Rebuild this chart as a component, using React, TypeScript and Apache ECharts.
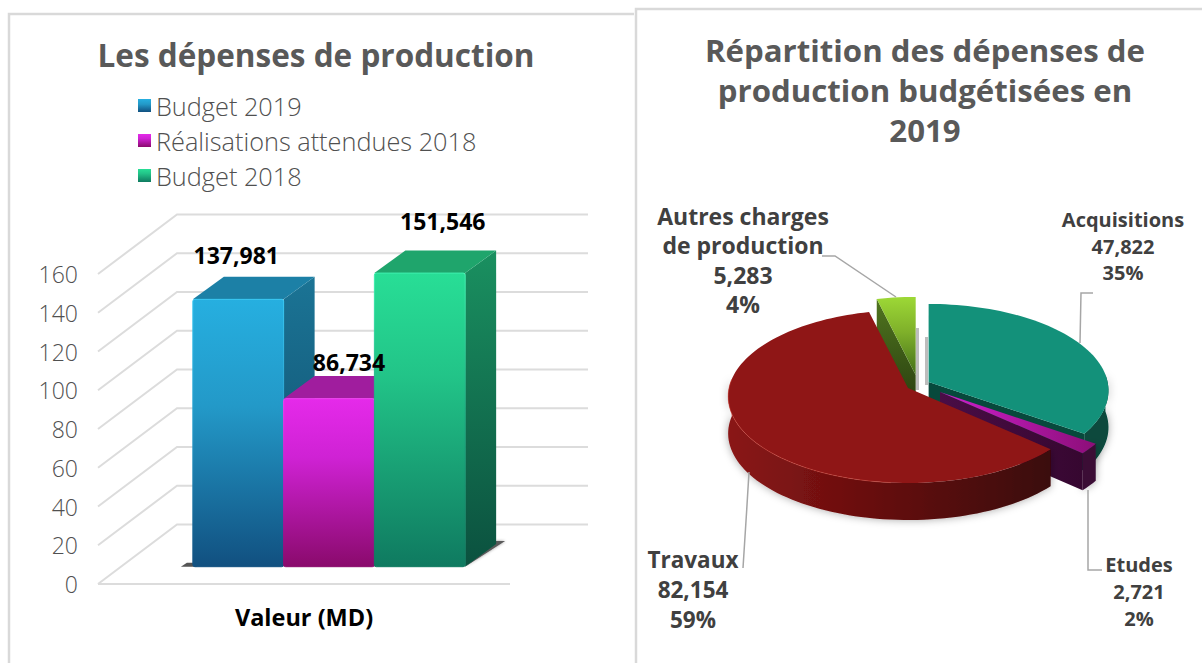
import React, { useEffect, useRef } from "react";
import * as echarts from "echarts";

const barSeriesNames = ["Budget 2019", "Réalisations attendues 2018", "Budget 2018"];
const barValues = [137.981, 86.734, 151.546];
const barLabels = ["137,981", "86,734", "151,546"];
const yTicks = [0, 20, 40, 60, 80, 100, 120, 140, 160];
const categoryNames = ["Valeur (MD)"];

const pieNames = ["Acquisitions", "Etudes", "Travaux", "Autres charges\nde production"];
const pieValues = [47.822, 2.721, 82.154, 5.283];
const pieValueLabels = ["47,822", "2,721", "82,154", "5,283"];
const piePercents = ["35%", "2%", "59%", "4%"];

const FONT = "Open Sans";
const grad = (x2: number, y2: number, stops: [number, string][]) => ({
  type: "linear", x: 0, y: 0, x2, y2,
  colorStops: stops.map(([offset, color]) => ({ offset, color })),
});

const barStyles = [
  { front: grad(0, 1, [[0, "#26afe0"], [0.4, "#2399c8"], [1, "#115080"]]), side: grad(0, 1, [[0, "#1b7495"], [1, "#0f4a6a"]]), top: "#1c80a6", edge: grad(0, 1, [[0, "#33c6f2"], [0.5, "#2399c8"], [1, "#115080"]]) },
  { front: grad(0, 1, [[0, "#e52aea"], [0.35, "#cf22d4"], [1, "#8a0a6c"]]), side: grad(0, 1, [[0, "#7d1480"], [1, "#4d0b4c"]]), top: "#a01d9e", edge: grad(0, 1, [[0, "#f040f2"], [0.5, "#bb1cc0"], [1, "#8a0a6c"]]) },
  { front: grad(0, 1, [[0, "#28de96"], [0.35, "#22c488"], [1, "#0f7a60"]]), side: grad(0, 1, [[0, "#1a9060"], [1, "#0b513f"]]), top: "#1fa56c", edge: grad(0, 1, [[0, "#3df0ae"], [0.5, "#1aa67e"], [1, "#0f7a60"]]) },
];
const BAR_W = 0.2203;
const FRONT = { dx: 25, dy: -17.3 };
const DEPTH = { dx: 31, dy: -22.6 };
const WALL = { dx: 79, dy: -59.5 };
const labelOffsets = [[-2, -44], [20, -36.6], [23, -52]];

const wallSeries = {
  type: "custom", name: "wall", silent: true, z: 1,
  data: yTicks.map((v) => [0, v]),
  renderItem: (p: any, api: any) => {
    const pt = api.coord([0, api.value(1)]);
    const L = p.coordSys.x, R = L + p.coordSys.width;
    const y = pt[1];
    const st = { stroke: "#dcdcdc", lineWidth: 2, fill: "none" };
    const children: any[] = [{
      type: "polyline",
      shape: { points: [[L, y], [L + WALL.dx, y + WALL.dy], [R + WALL.dx - 1, y + WALL.dy]] },
      style: st,
    }];
    if (api.value(1) === 0) children.push({ type: "line", shape: { x1: L, y1: y, x2: R, y2: y }, style: st });
    return { type: "group", children };
  },
};

const barSeries = barSeriesNames.map((name, i) => ({
  type: "custom", name, silent: true, z: 2,
  itemStyle: { color: barStyles[i].front },
  data: [[0, barValues[i]]],
  renderItem: (_p: any, api: any) => {
    const top = api.coord([0, api.value(1)]);
    const base = api.coord([0, 0]);
    const w = api.size([1, 0])[0] * BAR_W;
    const x0 = top[0] - 1.5 * w + i * w + FRONT.dx;
    const x1 = x0 + w;
    const yT = top[1] + FRONT.dy, yB = base[1] + FRONT.dy;
    const s = barStyles[i];
    const z2 = i * 5 + 1;
    const children: any[] = [];
    if (i === 0) {
      children.push({ type: "polygon", z2: 0, shape: { points: [[x0 - 12, yB], [x0 - 12 + 6, yB - 4], [x0 + 4, yB - 4], [x0 + 4, yB]] },
        style: { fill: "#555" } });
    }
    if (i === 2) {
      children.push({ type: "polygon", z2: 0, shape: { points: [[x1, yB], [x1 + DEPTH.dx + 9, yB + DEPTH.dy - 3], [x1 + DEPTH.dx, yB + DEPTH.dy - 3]] },
        style: { fill: "#5a5a5a", shadowBlur: 3, shadowColor: "rgba(0,0,0,.4)" } });
    }
    children.push(
      { type: "polygon", z2, shape: { points: [[x1, yT], [x1 + DEPTH.dx, yT + DEPTH.dy], [x1 + DEPTH.dx, yB + DEPTH.dy], [x1, yB]] }, style: { fill: s.side } },
      { type: "polygon", z2, shape: { points: [[x0, yT], [x0 + DEPTH.dx, yT + DEPTH.dy], [x1 + DEPTH.dx, yT + DEPTH.dy], [x1, yT]] }, style: { fill: s.top } },
      { type: "rect", z2: z2 + 1, shape: { x: x0, y: yT, width: w, height: yB - yT, r: 2 }, style: { fill: s.front, stroke: s.edge, lineWidth: 1 } },
      { type: "text", z2: 50, x: x0 + w / 2 + labelOffsets[i][0], y: top[1] + FRONT.dy + labelOffsets[i][1],
        style: { text: barLabels[i], font: `bold 23px ${FONT}`, fill: "#000", align: "center", verticalAlign: "middle" } },
    );
    return { type: "group", children };
  },
}));

// ---- pie (perspective ellipse) ----
const RX = 179, RY = 85.7, P = 0.098, H = 37;
const rad = (d: number) => (d * Math.PI) / 180;
const proj = (c: number[], deg: number) => {
  const X = Math.sin(rad(deg)), Y = -Math.cos(rad(deg));
  const f = 1 / (1 - P * Y);
  return [c[0] + RX * X * f, c[1] + RY * Y * f];
};
const arc = (c: number[], a: number, b: number) => {
  const n = Math.max(2, Math.ceil(Math.abs(b - a) / 2));
  const pts: number[][] = [];
  for (let k = 0; k <= n; k++) pts.push(proj(c, a + ((b - a) * k) / n));
  return pts;
};
const down = (pt: number[]) => [pt[0], pt[1] + H];
const pieCenters = [[928.6, 382], [940, 392], [908, 388], [915.7, 375]];
const pieOrder = [1, 3, 4, 2];
const pieLabelPos = [
  { x: 1123, y: 246, lh: 26.5, fs: 20 },
  { x: 1139, y: 591, lh: 27, fs: 20 },
  { x: 693, y: 589, lh: 30, fs: 22.5 },
  { x: 743, y: 260, lh: 29.5, fs: 23 },
];
const pieStyles = [
  { top: "#13917a", cut: "#07493c", wall: "#07493c" },
  { top: grad(1, 0, [[0, "#cf20cf"], [1, "#8c0e78"]]), cut: grad(1, 0, [[0, "#4a0d46"], [1, "#360730"]]), wall: "#3b0a36" },
  { top: "#8f1616", cut: "#3a0707", wall: grad(1, 0, [[0, "#8a1616"], [0.4, "#6b0f0f"], [1, "#3a0707"]]) },
  { top: grad(0, 1, [[0, "#9dd836"], [0.45, "#7fb02a"], [1, "#44701a"]]), cut: grad(0, 1, [[0, "#50741f"], [1, "#263c0e"]]), wall: "#263c0e" },
];

const pieTotal = pieValues.reduce((a, b) => a + b, 0);
const pieSeries = {
  type: "custom", name: "pie", coordinateSystem: "none", silent: true, z: 3,
  data: pieValues.map((v) => [v]),
  renderItem: (p: any, api: any) => {
    const i = p.dataIndex;
    let sum = 0;
    for (let k = 0; k < i; k++) sum += pieValues[k];
    const a = (sum / pieTotal) * 360;
    const b = a + (api.value(0) / pieTotal) * 360;
    const c = pieCenters[i];
    const s = pieStyles[i];
    const z2 = pieOrder[i] * 10;
    const children: any[] = [];
    const va = Math.max(a, 85), vb = Math.min(b, 276);
    if (vb > va) {
      const top = arc(c, va, vb);
      children.push({
        type: "polygon", z2,
        shape: { points: [...top, ...top.slice().reverse().map(down)] },
        style: { fill: s.wall, shadowBlur: 8, shadowColor: "rgba(0,0,0,.35)" },
      });
    }
    const cutAngle = i === 3 ? a : i === 2 ? null : b;
    if (cutAngle !== null) {
      const e = proj(c, cutAngle);
      children.push({
        type: "polygon", z2: z2 + 1,
        shape: { points: [c, e, down(e), down(c)] },
        style: { fill: s.cut },
      });
    }
    children.push({
      type: "polygon", z2: z2 + 2,
      shape: { points: [c, ...arc(c, a, b)] },
      style: { fill: s.top },
    });
    if (i === 2) {
      children.push({
        type: "polyline", z2: z2 + 3,
        shape: { points: arc(c, 185, 276) },
        style: { stroke: "rgba(226,84,72,.45)", lineWidth: 1, fill: "none" },
      });
    }
    const pos = pieLabelPos[i];
    const lines = [...pieNames[i].split("\n"), pieValueLabels[i], piePercents[i]];
    const start = pos.y - ((lines.length - 1) * pos.lh) / 2;
    lines.forEach((t, k) => children.push({
      type: "text", z2: 90, x: pos.x, y: start + k * pos.lh,
      style: { text: t, font: `bold ${pos.fs}px ${FONT}`, fill: "#404040", align: "center", verticalAlign: "middle" },
    }));
    return { type: "group", children };
  },
};

const leader = (points: number[][]) => ({
  type: "polyline", z: 5, shape: { points }, style: { stroke: "#a6a6a6", lineWidth: 1.5, fill: "none" },
});
const border = (x: number, y: number) => ({
  type: "polyline", z: 0, shape: { points: [[x, 663], [x, y], [x === 9 ? 634 : 1202, y]] },
  style: { stroke: "#d9d9d9", lineWidth: 2.5, fill: "none" },
});

export default function App() {
  const ref = useRef<HTMLDivElement>(null);
  useEffect(() => {
    const chart = echarts.init(ref.current!, undefined, { renderer: "svg" });
    chart.setOption({
      animation: false,
      backgroundColor: "#fff",
      title: [
        { text: "Les dépenses de production", left: 311, top: 33, textAlign: "center",
          textStyle: { fontFamily: FONT, fontWeight: "bold", fontSize: 31.5, color: "#595959" } },
        { text: "Répartition des dépenses de\nproduction budgétisées en\n2019", left: 920, top: 25, textAlign: "center",
          textStyle: { fontFamily: FONT, fontWeight: "bold", fontSize: 31.2, lineHeight: 40, color: "#595959" } },
      ],
      legend: {
        orient: "vertical", left: 133, top: 88, itemWidth: 13, itemHeight: 13, itemGap: 10,
        textStyle: { fontFamily: FONT, fontSize: 25.3, fontWeight: 300, color: "#505050" },
        icon: "rect",
        data: barSeriesNames.map((name, i) => ({ name, itemStyle: { color: barStyles[i].front } })),
      },
      grid: { left: 98, width: 412, top: 274, height: 310 },
      xAxis: {
        type: "category", data: categoryNames,
        axisLine: { show: false }, axisTick: { show: false },
        axisLabel: { fontFamily: FONT, fontWeight: "bold", fontSize: 23.5, color: "#000", margin: 21 },
      },
      yAxis: {
        type: "value", min: 0, max: 160, interval: 20,
        axisLine: { show: false }, axisTick: { show: false }, splitLine: { show: false },
        axisLabel: { fontFamily: FONT, fontSize: 23, fontWeight: 300, color: "#505050", margin: 20 },
      },
      graphic: [
        border(9, 14), border(636, 9),
        { type: "rect", z: 1, shape: { x: 916, y: 328, width: 3, height: 62 }, style: { fill: "#bdbdbd" } },
        { type: "rect", z: 1, shape: { x: 925, y: 337, width: 3, height: 48 }, style: { fill: "#bdbdbd" } },
        leader([[822, 256], [835, 256], [896, 297]]),
        leader([[1093, 293], [1081, 293], [1080, 343]]),
        leader([[749, 472], [746.7, 510], [743, 568]]),
        leader([[1088, 490], [1088, 570], [1102, 570]]),
      ],
      series: [wallSeries, ...barSeries, pieSeries],
    });
    return () => chart.dispose();
  }, []);
  return <div ref={ref} style={{ position: "fixed", left: 0, top: 0, width: 1202, height: 663 }} />;
}
